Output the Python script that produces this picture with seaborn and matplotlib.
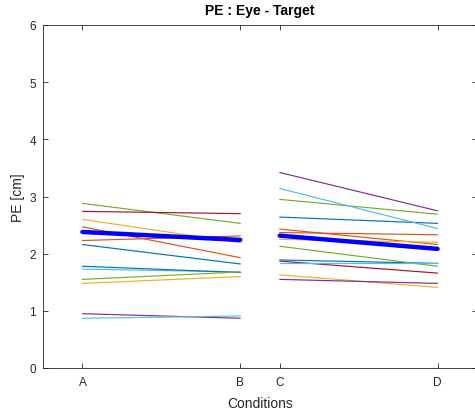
import numpy as np
import pandas as pd
import seaborn as sns
import matplotlib
matplotlib.use("Agg")
import matplotlib.pyplot as plt

sns.set_theme(style="white")
plt.rcParams["font.family"] = ["Liberation Sans", "DejaVu Sans"]

# Condition positions and labels
cond_labels = ["A", "B", "C", "D"]
cond_pos = [1, 5, 6, 10]

# Per-subject pointing error [cm]; pairs (A, B) and (C, D)
subjects = list(range(1, 14))
pe_A = [2.16, 2.47, 2.60, 7.50, 2.88, 1.73, 2.74, 1.78, 2.23, 1.48, 0.95, 1.55, 0.87]
pe_B = [1.82, 1.93, 2.19, 7.23, 2.53, 1.68, 2.70, 1.67, 2.31, 1.60, 0.87, 1.68, 0.91]
pe_C = [2.64, 2.43, 2.25, 3.42, 2.95, 3.14, 1.87, 1.89, 2.37, 1.63, 1.55, 2.13, 1.83]
pe_D = [2.53, 2.16, 2.20, 2.75, 2.69, 2.44, 1.66, 1.83, 2.33, 1.41, 1.48, 1.78, 1.83]

# MATLAB default line colour order
matlab_colors = ["#0072BD", "#D95319", "#EDB120", "#7E2F8E",
                 "#77AC30", "#4DBEEE", "#A2142F"]
palette = {s: matlab_colors[(s - 1) % 7] for s in subjects}

rows = []
for i, s in enumerate(subjects):
    for grp, vals in ((1, (pe_A[i], pe_B[i])), (2, (pe_C[i], pe_D[i]))):
        xs = cond_pos[:2] if grp == 1 else cond_pos[2:]
        for x, v in zip(xs, vals):
            rows.append({"subject": s, "group": grp, "x": x, "pe": v})
df = pd.DataFrame(rows)

mean_df = df.groupby(["group", "x"], as_index=False)["pe"].mean()

fig = plt.figure(figsize=(4.75, 4.10), dpi=100)
ax = fig.add_axes([43 / 475, 41 / 410, 434 / 475, 343 / 410])

sns.lineplot(data=df, x="x", y="pe", hue="subject", units="group",
             estimator=None, palette=palette, linewidth=0.85,
             legend=False, ax=ax)
sns.lineplot(data=mean_df, x="x", y="pe", units="group", estimator=None,
             color="#0000FF", linewidth=3.2, legend=False, ax=ax)

ax.set_xlim(0, 11)
ax.set_ylim(0, 6)
ax.set_xticks(cond_pos)
ax.set_xticklabels(cond_labels)
ax.set_yticks(range(0, 7))
ax.set_xlabel("Conditions", fontsize=10, color="#262626", labelpad=6)
ax.set_ylabel("PE [cm]", fontsize=10, color="#262626", labelpad=3)
ax.set_title("PE : Eye - Target", fontsize=10, fontweight="bold",
             color="black", pad=8)

ax.tick_params(direction="in", length=3.5, width=0.6, colors="#262626",
               labelsize=8.5, top=True, right=True, bottom=True, left=True,
               pad=5.5)
ax.tick_params(axis="y", pad=5)
for sp in ax.spines.values():
    sp.set_visible(True)
    sp.set_color("#262626")
    sp.set_linewidth(0.6)

fig.savefig("out.png", dpi=100)
